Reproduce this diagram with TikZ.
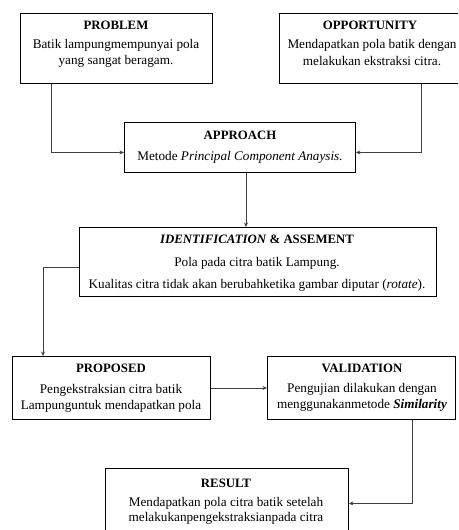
\documentclass[tikz,border=0pt]{standalone}
\usepackage{fontspec}
\setmainfont{Liberation Serif}
\usetikzlibrary{arrows.meta,calc}
\tikzset{
  box/.style={draw=black, line width=0.9pt, rectangle, anchor=north west, inner sep=0pt},
  txt/.style={inner sep=0pt, font=\fontsize{13.2}{15}\selectfont, anchor=center},
  ttl/.style={txt, font=\fontsize{12.8}{15}\selectfont\bfseries},
  conn/.style={draw=black!75, line width=0.8pt},
  arr/.style={conn, -{Stealth[length=4.5pt,width=4pt]}}
}
\begin{document}
\begin{tikzpicture}[x=1pt,y=1pt]
\useasboundingbox (0,0) rectangle (458,-530);
\clip (0,0) rectangle (458,-530);
% boxes
\node[box, minimum width=192, minimum height=70] (problem) at (20,-13) {};
\node[box, minimum width=190, minimum height=70] (opportunity) at (279,-13) {};
\node[box, minimum width=231, minimum height=50] (approach) at (124,-122) {};
\node[box, minimum width=357, minimum height=69] (ident) at (79,-227) {};
\node[box, minimum width=198, minimum height=63] (proposed) at (12,-356) {};
\node[box, minimum width=188, minimum height=63] (validation) at (267,-356) {};
\node[box, minimum width=243, minimum height=70] (result) at (105,-468) {};
% texts
\node[ttl] (problemT) at (116,-25) {PROBLEM};
\node[txt] (problemA) at (116,-45) {Batik lampungmempunyai pola};
\node[txt] (problemB) at (116,-61) {yang sangat beragam.};
\node[ttl] (oppT) at (370,-25) {OPPORTUNITY};
\node[txt] (oppA) at (372,-45) {Mendapatkan pola batik dengan};
\node[txt] (oppB) at (372,-61) {melakukan ekstraksi citra.};
\node[ttl] (appT) at (240,-135) {APPROACH};
\node[txt] (appA) at (240,-157) {Metode \textit{Principal Component Anaysis.}};
\node[ttl] (idT) at (257,-239) {\textit{IDENTIFICATION} \& ASSEMENT};
\node[txt] (idA) at (257,-263) {Pola pada citra batik Lampung.};
\node[txt] (idB) at (257,-285) {Kualitas citra tidak akan berubahketika gambar diputar (\textit{rotate}).};
\node[ttl] (propT) at (111,-368) {PROPOSED};
\node[txt] (propA) at (111,-390) {Pengekstraksian citra batik};
\node[txt] (propB) at (111,-406) {Lampunguntuk mendapatkan pola};
\node[ttl] (valT) at (362,-368) {VALIDATION};
\node[txt] (valA) at (362,-389) {Pengujian dilakukan dengan};
\node[txt] (valB) at (362,-405) {menggunakanmetode \textbf{\textit{Similarity}}};
\node[ttl] (resT) at (226,-483) {RESULT};
\node[txt] (resA) at (226,-503) {Mendapatkan pola citra batik setelah};
\node[txt] (resB) at (226,-518) {melakukanpengekstraksianpada citra};
% connector anchors
\coordinate (p1) at ($(problem.south west)+(31,0)$);
\coordinate (o1) at ($(opportunity.south west)+(142,0)$);
\coordinate (a1) at ($(approach.south)+(6,0)$);
\coordinate (i1) at ($(ident.west)+(0,-5.5)$);
\coordinate (v1) at ($(validation.south west)+(145,0)$);
% connectors
\draw[arr] (p1) |- ($(approach.west)+(0,-5)$);
\draw[arr] (o1) |- ($(approach.east)+(0,-5)$);
\draw[arr] (a1) -- (a1 |- ident.north);
\draw[arr] (i1) -| ($(proposed.north west)+(31,0)$);
\draw[arr] (proposed.east) -- (validation.west);
\draw[arr] (v1) |- (result.east);
\end{tikzpicture}
\end{document}
